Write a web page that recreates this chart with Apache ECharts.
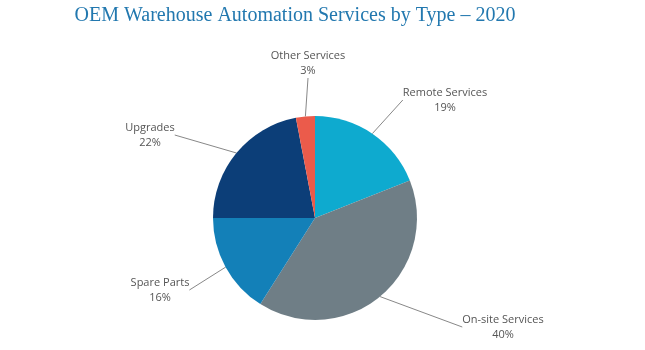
<!DOCTYPE html>
<html>
<head>
<meta charset="utf-8">
<script src="https://cdn.jsdelivr.net/npm/echarts@6/dist/echarts.min.js"></script>
<style>
  html, body { margin: 0; padding: 0; background: #fff; }
</style>
</head>
<body>
<div id="chart" style="width: 645px; height: 350px;"></div>
<script>
// 数据
const categories = ["Remote Services", "On-site Services", "Spare Parts", "Upgrades", "Other Services"];
const shares = [19, 40, 16, 22, 3];
const colors = ["#0EAACF", "#6F7E86", "#1380B8", "#0C3E78", "#EB5B4B"];
// 标签位置
const labelPos = [[445, 100], [503, 327], [160, 290], [150, 135], [308, 63]];

const chart = echarts.init(document.getElementById("chart"));
chart.setOption({
    backgroundColor: "#fff",
    title: {
        text: "OEM Warehouse Automation Services by Type \u2013 2020",
        left: 290,
        textAlign: "center",
        top: 1,
        textStyle: {
            fontFamily: "Liberation Serif",
            fontWeight: "normal",
            fontSize: 20,
            color: "#2278AF",
        },
    },
    series: [
        {
            type: "pie",
            center: [315, 218],
            radius: [0, 102],
            startAngle: 90,
            clockwise: true,
            silent: true,
            data: categories.map((name, i) => ({
                name: name,
                value: shares[i],
                itemStyle: { color: colors[i] },
            })),
            label: {
                formatter: "{b}\n{c}%",
                fontFamily: "Open Sans",
                fontSize: 11,
                lineHeight: 15,
                color: "#555",
                align: "center",
            },
            labelLine: {
                show: true,
                length: 10,
                length2: 0,
                lineStyle: { color: "#888", width: 1 },
            },
            labelLayout: function (params) {
                const p = labelPos[params.dataIndex];
                return {
                    x: p[0],
                    y: p[1],
                    align: "center",
                    verticalAlign: "middle",
                };
            },
        },
    ],
});
</script>
</body>
</html>
